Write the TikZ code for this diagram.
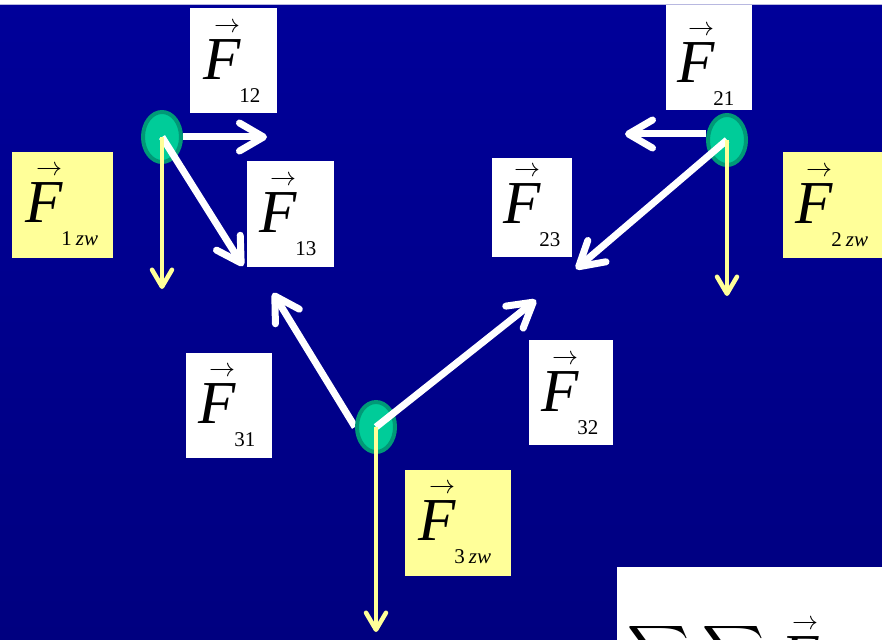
\RequirePackage{fix-cm}
\documentclass[tikz,border=0pt]{standalone}
\usepackage{fontspec}
\setmainfont{Liberation Serif}
\usepackage{graphicx}
\usetikzlibrary{arrows.meta,shapes.geometric}
\definecolor{bgtop}{HTML}{000099}
\definecolor{bgbot}{HTML}{000080}
\definecolor{pale}{HTML}{FFFF99}
\definecolor{pin}{HTML}{00CC99}
\definecolor{pout}{HTML}{009977}
\definecolor{rulec}{HTML}{B8B8E0}
\newcommand\Fv[1]{\rlap{\hspace{11pt}\raisebox{47pt}{\fontsize{26}{26}\selectfont$\rightarrow$}}{\fontsize{61}{61}\selectfont\itshape F}\hspace{-1pt}\raisebox{-23pt}{\fontsize{21}{21}\selectfont #1}}
\newcommand\zw[1]{#1\hspace{4pt}\textit{zw}}
\pgfdeclarelayer{bg}
\pgfsetlayers{bg,main}
\tikzset{
  wbox/.style={fill=white, draw=none, anchor=north west, inner sep=0pt},
  ybox/.style={fill=pale, draw=none, anchor=north west, inner sep=0pt},
  lab/.style={anchor=base west, inner sep=0pt, text=black},
  part/.style={ellipse, fill=pin, draw=pout, line width=4pt, minimum width=38pt, minimum height=50pt, inner sep=0pt},
  warr/.style={white, line width=7pt, -{Straight Barb[length=24pt, width=28pt, round]}},
  yarr/.style={pale, line width=4.5pt, -{Straight Barb[length=17pt, width=20pt, round]}},
}
\begin{document}
\begin{tikzpicture}[x=1pt,y=-1pt]
\useasboundingbox (0,0) rectangle (882,639);
\clip (0,0) rectangle (882,639);
% particles
\node (p1) [part] at (162,137) {};
\node (p2) [part] at (727,140) {};
\node (p3) [part] at (376,427) {};
% end points
\coordinate (t12) at (267,137);
\coordinate (t21) at (625,134);
\coordinate (t31) at (273,293);
\coordinate (t13) at (243,266);
\coordinate (t23) at (576,269);
\coordinate (t32) at (536,300);
\coordinate (g1) at (162,289);
\coordinate (g2) at (727,296);
\coordinate (g3) at (376,632);
\begin{pgfonlayer}{bg}
  \shade[top color=bgtop, bottom color=bgbot] (0,4) rectangle (882,639);
  \fill[white] (0,0) rectangle (882,4);
  \draw[rulec, line width=1.2pt] (0,4.6) -- (882,4.6);
  \draw[warr] (p1.east) -- (t12);
  \draw[warr] (p2.west |- t21) -- (t21);
  \draw[warr] (p3.west) -- (t31);
\end{pgfonlayer}
% arrows over the particles
\draw[warr] (p1.center) -- (t13);
\draw[warr] (p2.center) -- (t23);
\draw[warr] (p3.center) -- (t32);
\draw[yarr] (p1.center) -- (g1);
\draw[yarr] (p2.center) -- (g2);
\draw[yarr] (p3.center) -- (g3);
% boxes
\node (b12) [wbox, minimum width=87pt, minimum height=105pt] at (190,8) {};
\node (b1z) [ybox, minimum width=101pt, minimum height=106pt] at (12,152) {};
\node (b13) [wbox, minimum width=87pt, minimum height=106pt] at (247,161) {};
\node (b21) [wbox, minimum width=86pt, minimum height=105pt] at (666,5) {};
\node (b23) [wbox, minimum width=80pt, minimum height=99pt] at (492,158) {};
\node (b2z) [ybox, minimum width=110pt, minimum height=106pt] at (783,152) {};
\node (b31) [wbox, minimum width=86pt, minimum height=105pt] at (186,353) {};
\node (b3z) [ybox, minimum width=106pt, minimum height=106pt] at (405,470) {};
\node (b32) [wbox, minimum width=84pt, minimum height=105pt] at (529,340) {};
\node (bsum) [wbox, minimum width=280pt, minimum height=90pt] at (617,567) {};
% labels
\node (l12) [lab] at (203,80) {\Fv{12}};
\node (l1z) [lab] at (25,222) {\Fv{\zw{1}}};
\node (l13) [lab] at (259,232) {\Fv{13}};
\node (l21) [lab] at (677,83) {\Fv{21}};
\node (l23) [lab] at (503,223) {\Fv{23}};
\node (l2z) [lab] at (795,223) {\Fv{\zw{2}}};
\node (l31) [lab] at (198,423) {\Fv{31}};
\node (l3z) [lab] at (418,540) {\Fv{\zw{3}}};
\node (l32) [lab] at (541,411) {\Fv{32}};
\node (s1) [anchor=north west, inner sep=0pt] at (627,622) {\scalebox{4.3}{$\displaystyle\sum$}};
\node (s2) [anchor=north west, inner sep=0pt] at (702,622) {\scalebox{4.3}{$\displaystyle\sum$}};
\node (lsum) [lab] at (781,676) {\Fv{}};
\end{tikzpicture}
\end{document}
